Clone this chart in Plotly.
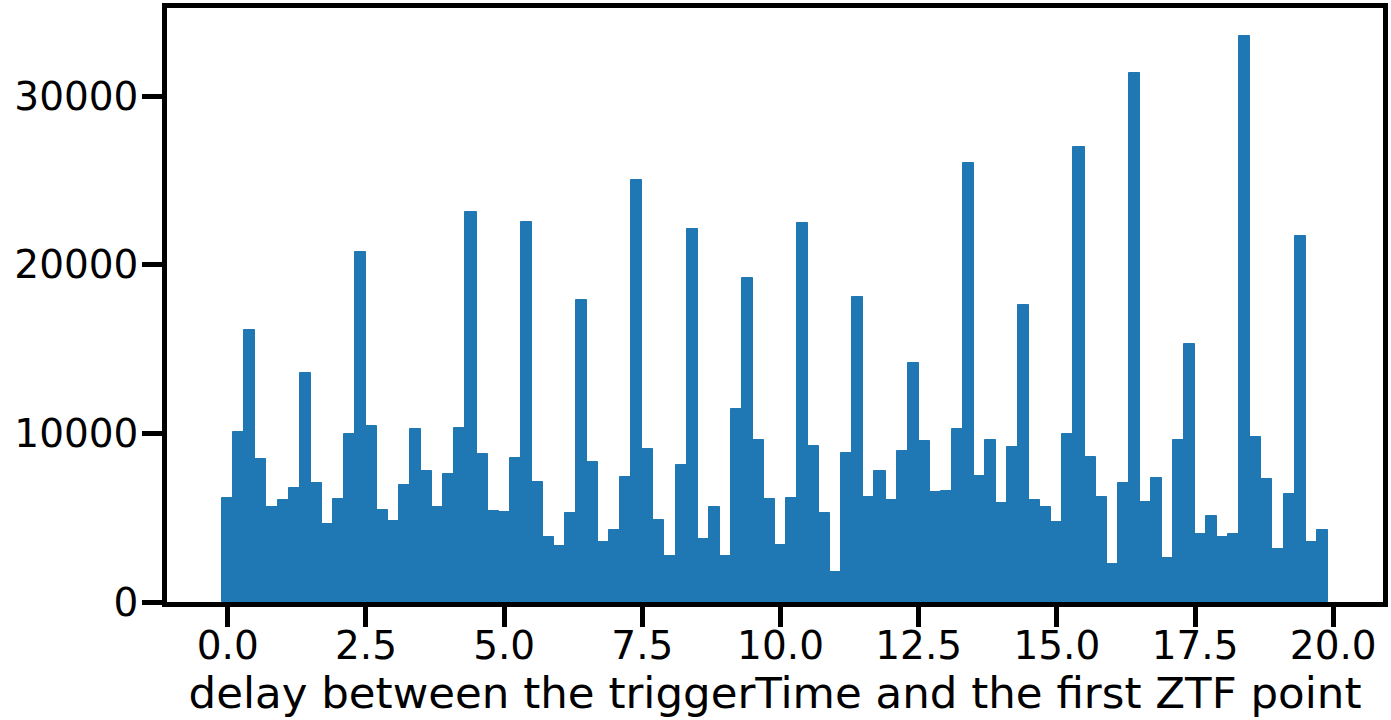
import plotly.graph_objects as go

# histogram: 100 bins of width 0.2 from -0.1 to 19.9
bin_start = -0.1
bin_width = 0.2
counts = [
    6157, 10078, 16157, 8510, 5608, 6059, 6784, 13588, 7039, 4647,
    6117, 9980, 20750, 10451, 5451, 4823, 6961, 10255, 7765, 5608,
    7569, 10300, 23155, 8804, 5412, 5314, 8549, 22529, 7137, 3843,
    3294, 5255, 17940, 8294, 3549, 4274, 7412, 24999, 9078, 4882,
    2725, 8098, 22137, 3745, 5608, 2725, 11431, 19215, 9627, 6098,
    3353, 6176, 22450, 9255, 5255, 1784, 8843, 18078, 6235, 7764,
    6039, 8961, 14196, 9568, 6529, 6588, 10255, 26057, 7470, 9627,
    5843, 9216, 17593, 6061, 5607, 4767, 9988, 27013, 8626, 6243,
    2270, 7037, 31394, 5902, 7332, 2611, 9579, 15323, 4041, 5108,
    3859, 4041, 33551, 9806, 7309, 3133, 6401, 21679, 3564, 4268,
]
x_ticks = [0.0, 2.5, 5.0, 7.5, 10.0, 12.5, 15.0, 17.5, 20.0]
y_ticks = [0, 10000, 20000, 30000]
x_label = "delay between the triggerTime and the first ZTF point"

centers = [bin_start + bin_width * (i + 0.5) for i in range(len(counts))]
edges_lo = bin_start
edges_hi = bin_start + bin_width * len(counts)
pad = 0.05 * (edges_hi - edges_lo)

fig = go.Figure(go.Bar(
    x=centers, y=counts, width=bin_width,
    marker=dict(color="#1f77b4", line=dict(color="#1f77b4", width=1)),
    hoverinfo="x+y",
))

tick_font = dict(family="DejaVu Sans", size=39, color="black")
label_font = dict(family="DejaVu Sans", size=43.5, color="black")
fig.update_layout(
    width=1391, height=720,
    margin=dict(l=167, r=3, t=5, b=118),
    paper_bgcolor="white", plot_bgcolor="white",
    bargap=0, showlegend=False,
    font=tick_font,
)
fig.update_xaxes(
    range=[edges_lo - pad, edges_hi + pad],
    tickvals=x_ticks, ticktext=[f"{v:.1f}" for v in x_ticks],
    ticks="outside", ticklen=20, tickwidth=4.5, tickcolor="black",
    ticklabelstandoff=-15,
    showline=True, linewidth=4.5, linecolor="black", mirror=True,
    showgrid=False, zeroline=False,
    title=dict(text=x_label, font=label_font, standoff=6),
    tickfont=tick_font,
)
fig.update_yaxes(
    range=[0, max(counts) * 1.05],
    tickvals=y_ticks, ticktext=[str(v) for v in y_ticks],
    ticks="outside", ticklen=20, tickwidth=4.5, tickcolor="black",
    ticklabelstandoff=-4,
    showline=True, linewidth=4.5, linecolor="black", mirror=True,
    showgrid=False, zeroline=False,
    tickfont=tick_font,
)

fig.write_html("out.html")
